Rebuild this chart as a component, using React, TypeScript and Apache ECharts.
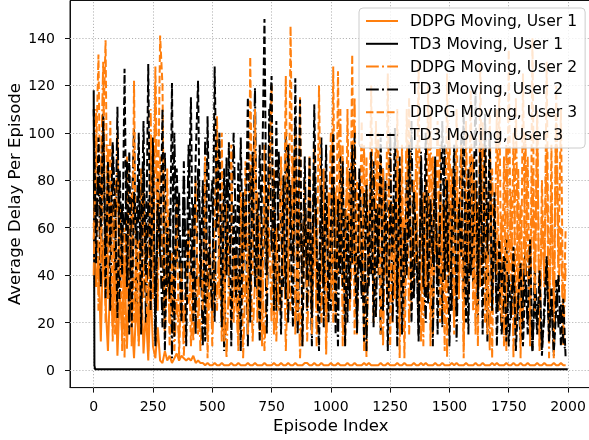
import React, { useEffect, useRef } from "react";
import * as echarts from "echarts";

// Episode sampling step for the noisy series
const STEP = 10;

const xTicks = [0, 250, 500, 750, 1000, 1250, 1500, 1750, 2000];
const yTicks = [0, 20, 40, 60, 80, 100, 120, 140];

const seriesNames = [
  "DDPG Moving, User 1",
  "TD3 Moving, User 1",
  "DDPG Moving, User 2",
  "TD3 Moving, User 2",
  "DDPG Moving, User 3",
  "TD3 Moving, User 3",
];

const ddpgUser1 = [
  62, 35, 48, 12, 55, 28, 8, 40, 18, 52, 6, 33, 15, 45, 9, 38, 22, 5, 30, 12,
  42, 7, 25, 4, 35, 10, 5, 18, 4, 3, 8, 4, 6, 3, 5, 7, 4, 6, 5, 4,
  5, 4, 6, 3, 4, 3, 3, 2, 3, 2, 2, 3, 2, 2, 3, 2, 2, 2, 3, 2,
  2, 3, 2, 2, 2, 3, 2, 2, 3, 2, 2, 2, 3, 2, 2, 2, 3, 2, 2, 3,
  2, 2, 3, 2, 2, 3, 2, 2, 2, 3, 3, 2, 2, 3, 2, 2, 3, 2, 2, 2,
  3, 2, 2, 3, 2, 2, 2, 3, 2, 2, 3, 2, 2, 2, 3, 2, 3, 2, 2, 2,
  2, 3, 2, 2, 3, 2, 2, 2, 3, 2, 2, 3, 2, 2, 2, 3, 2, 2, 3, 2,
  3, 2, 2, 2, 3, 2, 2, 3, 2, 2, 2, 3, 2, 3, 2, 2, 2, 3, 2, 2,
  2, 3, 2, 2, 3, 2, 2, 2, 3, 2, 3, 2, 2, 2, 3, 2, 2, 3, 2, 2,
  3, 2, 2, 3, 2, 2, 2, 3, 2, 2, 3, 2, 2, 2, 3, 2, 2, 3, 2, 2,
];

const td3User1Episodes = [0, 3, 6, 1999];
const td3User1 = [118, 2, 0.3, 0.3];

const ddpgUser2 = [
  40, 110, 25, 80, 130, 20, 95, 50, 70, 15, 100, 35, 60, 5, 90, 40, 75, 20, 55, 10,
  85, 30, 60, 10, 110, 45, 120, 25, 90, 40, 15, 45, 20, 38, 8, 30, 12, 42, 6, 35,
  28, 40, 12, 35, 45, 8, 30, 40, 15, 55, 10, 48, 25, 60, 12, 45, 5, 38, 20, 50,
  30, 10, 65, 5, 40, 20, 55, 12, 38, 75, 15, 50, 8, 35, 60, 20, 85, 12, 45, 25,
  70, 8, 45, 25, 90, 15, 55, 5, 40, 80, 12, 50, 30, 95, 10, 45, 20, 70, 6, 50,
  100, 20, 75, 40, 110, 10, 60, 85, 25, 50, 115, 15, 70, 35, 95, 5, 55, 80, 30, 105,
  40, 90, 10, 65, 30, 100, 20, 55, 85, 5, 75, 40, 110, 15, 60, 35, 95, 25, 70, 10,
  80, 30, 110, 15, 60, 40, 95, 25, 70, 5, 100, 45, 20, 85, 35, 65, 10, 105, 30, 55,
  90, 15, 70, 35, 105, 20, 60, 8, 85, 45, 110, 25, 65, 10, 95, 40, 75, 5, 115, 30,
  70, 20, 100, 45, 15, 85, 30, 110, 10, 65, 40, 95, 5, 75, 25, 105, 35, 60, 10, 45,
];

const td3User2 = [
  100, 60, 85, 35, 108, 50, 78, 25, 95, 42, 111, 30, 70, 55, 88, 15, 65, 102, 28, 80,
  50, 105, 20, 72, 38, 98, 10, 82, 55, 18, 92, 35, 68, 5, 100, 45, 75, 22, 88, 30,
  95, 40, 70, 15, 85, 55, 10, 98, 30, 62, 80, 20, 101, 45, 70, 8, 90, 35, 60, 100,
  55, 20, 98, 40, 72, 10, 85, 60, 119, 30, 95, 45, 70, 15, 110, 50, 80, 25, 92, 60,
  35, 100, 20, 78, 48, 105, 15, 68, 40, 90, 25, 60, 10, 85, 55, 30, 98, 18, 70, 45,
  25, 80, 50, 10, 90, 35, 68, 20, 85, 45, 100, 15, 58, 30, 75, 8, 62, 40, 88, 22,
  70, 15, 85, 40, 60, 100, 20, 72, 10, 90, 45, 25, 80, 55, 105, 30, 65, 15, 92, 48,
  20, 75, 50, 10, 88, 35, 62, 18, 95, 42, 70, 25, 82, 12, 60, 98, 30, 72, 15, 90,
  35, 80, 20, 102, 45, 70, 12, 95, 30, 60, 25, 42, 15, 35, 55, 10, 28, 40, 18, 32,
  12, 30, 50, 15, 25, 8, 42, 20, 35, 10, 22, 45, 15, 30, 6, 38, 18, 28, 12, 8,
];

const ddpgUser3 = [
  55, 90, 133, 45, 100, 139, 30, 105, 12, 80, 25, 70, 8, 60, 30, 85, 10, 122, 20, 55,
  15, 75, 40, 8, 95, 30, 128, 60, 141, 120, 20, 85, 10, 50, 25, 70, 5, 45, 15, 35,
  60, 10, 40, 80, 15, 55, 25, 90, 5, 45, 20, 65, 107, 30, 100, 12, 70, 35, 95, 20,
  50, 8, 75, 30, 88, 15, 132, 40, 110, 20, 65, 10, 95, 35, 80, 120, 15, 60, 25, 90,
  40, 124, 30, 145, 55, 100, 20, 115, 10, 70, 35, 90, 15, 60, 25, 120, 40, 85, 12, 75,
  30, 128, 20, 126, 45, 95, 10, 110, 35, 133, 15, 80, 50, 105, 8, 90, 40, 120, 20, 70,
  100, 15, 85, 40, 125, 10, 70, 30, 110, 20, 95, 5, 60, 115, 25, 80, 45, 130, 12, 75,
  35, 120, 10, 90, 50, 105, 20, 70, 8, 125, 40, 85, 15, 110, 30, 95, 5, 75, 45, 118,
  25, 80, 10, 130, 35, 95, 15, 110, 5, 70, 40, 120, 20, 90, 8, 135, 30, 100, 15, 85,
  5, 125, 40, 90, 10, 140, 25, 105, 8, 80, 35, 130, 12, 95, 5, 120, 45, 110, 15, 60,
];

const td3User3 = [
  110, 45, 98, 60, 105, 30, 88, 52, 96, 70, 22, 84, 40, 127, 35, 92, 18, 75, 55, 100,
  15, 88, 40, 129, 25, 95, 12, 70, 48, 110, 8, 60, 30, 121, 14, 85, 50, 20, 78, 10,
  65, 115, 20, 90, 122, 35, 80, 12, 107, 45, 25, 128, 60, 100, 18, 85, 40, 96, 10, 70,
  30, 88, 8, 75, 50, 115, 20, 92, 35, 68, 12, 80, 148, 40, 100, 124, 25, 105, 55, 15,
  82, 30, 95, 60, 18, 123, 45, 114, 10, 70, 38, 90, 22, 112, 50, 8, 78, 35, 95, 20,
  60, 100, 15, 72, 40, 88, 10, 65, 30, 95, 48, 20, 85, 55, 12, 78, 35, 92, 18, 68,
  45, 98, 25, 80, 8, 70, 50, 102, 30, 85, 15, 60, 40, 95, 20, 75, 55, 12, 88, 35,
  100, 28, 72, 45, 90, 15, 65, 105, 38, 80, 10, 58, 95, 25, 70, 48, 110, 20, 85, 40,
  62, 118, 30, 92, 15, 108, 50, 100, 25, 75, 10, 55, 35, 48, 12, 40, 22, 52, 8, 30,
  45, 10, 38, 20, 55, 8, 32, 15, 42, 6, 28, 48, 12, 35, 8, 25, 40, 10, 30, 5,
];

const ORANGE = "#ff7f0e";
const BLACK = "#000000";
const FONT = "DejaVu Sans";
const LW = 2;
const DASHED = [7.4, 3.2];
const DASHDOT = [12.8, 3.2, 2, 3.2];

function stepped(values: number[]) {
  return values.map((v, i) => [i * STEP, v]);
}

function lineSeries(name: string, data: number[][], color: string, type: any) {
  return {
    name,
    type: "line",
    data,
    showSymbol: false,
    symbol: "none",
    silent: true,
    z: 2,
    itemStyle: { color },
    lineStyle: { color, width: LW, type },
  };
}

export default function App() {
  const ref = useRef<HTMLDivElement>(null);
  useEffect(() => {
    if (!ref.current) return;
    const chart = echarts.init(ref.current, null, { renderer: "svg" });
    const option: any = {
      animation: false,
      grid: {
        left: 70, top: 0.5, width: 521.5, height: 387.1,
        show: true, borderColor: "#111", borderWidth: 1, backgroundColor: "transparent",
        containLabel: false, outerBoundsMode: "none",
      },
      xAxis: {
        type: "value",
        min: -100,
        max: 2099,
        name: "Episode Index",
        nameLocation: "middle",
        nameGap: 29,
        nameMoveOverlap: false,
        nameTextStyle: { fontFamily: FONT, fontSize: 16.5, color: "#000" },
        axisLine: { show: true, onZero: false, lineStyle: { color: "#111", width: 1 } },
        axisTick: { show: true, customValues: xTicks, length: 5, lineStyle: { color: "#111" } },
        axisLabel: { customValues: xTicks, margin: 11, fontFamily: FONT, fontSize: 14, color: "#000", formatter: (v: number) => String(v) },
        splitLine: { show: false },
      },
      yAxis: {
        type: "value",
        min: -7.4,
        max: 155.8,
        name: "Average Delay Per Episode",
        nameLocation: "middle",
        nameGap: 47,
        nameMoveOverlap: false,
        nameTextStyle: { fontFamily: FONT, fontSize: 16.5, color: "#000" },
        axisLine: { show: true, onZero: false, lineStyle: { color: "#111", width: 1 } },
        axisTick: { show: true, customValues: yTicks, length: 5, lineStyle: { color: "#111" } },
        axisLabel: { customValues: yTicks, margin: 15, fontFamily: FONT, fontSize: 14, color: "#000", formatter: (v: number) => String(v) },
        splitLine: { show: false },
      },
      legend: {
        data: seriesNames,
        orient: "vertical",
        left: 359,
        top: 8,
        itemWidth: 32,
        itemHeight: 16,
        itemGap: 6.8,
        padding: [5, 8, 5, 6],
        backgroundColor: "rgba(255,255,255,0.8)",
        borderColor: "#cccccc",
        borderWidth: 1,
        borderRadius: 4,
        itemStyle: { opacity: 0 },
        textStyle: { fontFamily: FONT, fontSize: 15.6, color: "#000", padding: [0, 0, 0, 7] },
      },
      series: [
        {
          name: "__grid",
          type: "line",
          data: [],
          silent: true,
          z: 1,
          markLine: {
            silent: true,
            symbol: ["none", "none"],
            z: 1,
            label: { show: false },
            lineStyle: { color: "#b0b0b0", width: 1, type: [1.1, 2] },
            data: [
              ...xTicks.map((v) => ({ xAxis: v })),
              ...yTicks.map((v) => ({ yAxis: v })),
            ],
          },
        },
        lineSeries(seriesNames[0], stepped(ddpgUser1), ORANGE, "solid"),
        lineSeries(seriesNames[1], td3User1Episodes.map((e, i) => [e, td3User1[i]]), BLACK, "solid"),
        lineSeries(seriesNames[2], stepped(ddpgUser2), ORANGE, DASHDOT),
        lineSeries(seriesNames[3], stepped(td3User2), BLACK, DASHDOT),
        lineSeries(seriesNames[4], stepped(ddpgUser3), ORANGE, DASHED),
        lineSeries(seriesNames[5], stepped(td3User3), BLACK, DASHED),
      ],
    };
    chart.setOption(option);
    return () => chart.dispose();
  }, []);
  return <div ref={ref} style={{ position: "fixed", left: 0, top: 0, width: 589, height: 440 }} />;
}
